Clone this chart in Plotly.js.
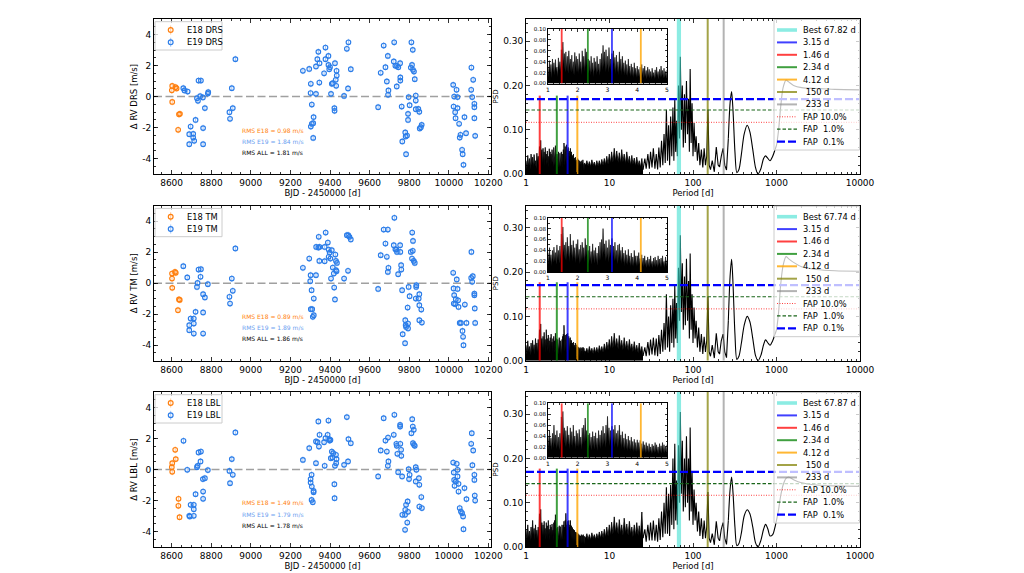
<!DOCTYPE html>
<html><head><meta charset="utf-8">
<script src="https://cdn.plot.ly/plotly-3.0.1.min.js"></script>
<style>html,body{margin:0;padding:0;background:#fff}#chart{width:1024px;height:573px}</style>
</head><body><div id="chart"></div>
<script>
// ---------------- RV time series ----------------
const drsE18T=[8603,8601,8620,8625,8603,8637,8642,8633];
const drsE18V=[0.68,0.40,0.60,0.52,-0.35,-1.15,-1.12,-2.15];
const drsE19T=[8659,8665,8681,8696,8689,8689,8709,8709,8714,8721,8728,8733,8736,8748,8744,8758,8759,8759,8768,8783,8785,8892,8895,8904,8909,8922,
9263,9295,9303,9302,9303,9308,9308,9317,9315,9315,9329,9329,9341,9336,9346,9347,9370,9377,9377,9392,9392,9396,9400,9405,9409,9414,9422,9423,9425,9429,9431,9433,9434,9471,9485,9491,9493,9505,
9643,9656,9671,9680,9687,9692,9695,9693,9724,9722,9730,9738,9737,9745,9754,9755,9755,9762,9765,9780,9782,9789,9784,9794,9794,9797,9802,9811,9808,9814,9818,9819,9824,9828,9833,9833,9833,9846,9851,9853,9863,9859,
10022,10027,10024,10032,10034,10039,10044,10044,10052,10055,10059,10067,10070,10074,10079,10087,10113,10114,10118,10123,10129,10129,10129,10133];
const drsE19V=[0.54,0.39,0.32,-1.94,-2.43,-3.08,-2.41,-2.65,-2.86,-1.51,-0.11,-0.28,1.03,1.03,0.02,-0.06,-2.04,-3.08,-0.75,0.19,0.28,-1.01,-1.44,0.54,-0.75,2.41,
1.66,1.78,0.82,0.22,-1.94,-1.76,-0.52,-1.33,-1.72,-2.67,0.17,1.94,2.88,2.41,0.9,2.15,1.5,3.16,2.41,2.62,2.04,1.76,1.89,0.17,0.82,0.86,-0.75,-0.92,2.15,1.08,0.69,1.66,1.35,0.04,3.08,0.52,3.5,1.76,
-0.69,1.53,3.29,1.89,0.97,2.62,0.39,0.11,3.5,2.26,1.98,1.98,0.65,1.89,2.15,1.23,1.03,-0.65,-2.9,-2.32,-2.58,-2.52,-3.72,-1.51,-1.12,-0.04,-0.56,3.5,1.87,2.04,3.01,1.72,1.61,1.12,0.06,-0.26,-0.82,-0.8,-0.99,-2.06,-1.83,-1.98,
0.75,0.0,-0.65,-1.01,-1.4,0.43,-0.04,-0.75,-1.76,-2.65,-2.47,-3.44,-3.72,-4.41,-1.33,-2.37,0.43,1.87,-0.04,1.08,-0.47,-0.69,-1.4,-2.54];

const tmE18T=[8602,8602,8617,8621,8603,8637,8641,8632];
const tmE18V=[0.30,0.62,0.73,0.67,-0.30,-1.05,-1.08,-1.74];
const tmE19T=[8659,8679,8689,8689,8696,8712,8712,8712,8721,8728,8731,8736,8748,8746,8759,8759,8759,8768,8783,8892,8895,8904,8909,8922,
9263,9295,9302,9300,9307,9303,9310,9313,9318,9318,9329,9330,9341,9343,9346,9347,9373,9373,9378,9389,9393,9393,9398,9402,9405,9409,9414,9419,9421,9425,9427,9430,9430,9433,9435,9471,9485,9491,9492,9498,9505,
9643,9656,9671,9680,9687,9692,9695,9692,9725,9722,9730,9738,9735,9744,9754,9755,9759,9760,9764,9767,9780,9782,9784,9779,9792,9794,9794,9797,9802,9815,9808,9818,9819,9814,9823,9828,9833,9836,9835,9851,9848,9851,9851,9861,9864,
10022,10024,10027,10025,10032,10035,10040,10044,10047,10049,10055,10061,10069,10072,10074,10081,10089,10113,10114,10121,10118,10129,10129,10131,10133];
const tmE19V=[1.10,0.37,-2.71,-3.03,-2.28,-2.28,-2.60,-3.25,-1.85,-0.24,0.02,0.88,0.90,0.41,-1.89,-3.25,-0.71,-0.92,-0.06,-0.88,-1.31,0.30,-0.49,2.24,
0.99,1.59,0.52,0.13,-0.45,-1.68,-1.68,-2.17,-2.06,-0.99,0.52,2.34,2.30,2.99,1.44,2.34,2.34,1.42,3.27,2.62,2.17,1.70,1.98,1.59,0.30,2.13,1.01,0.62,-0.28,-1.05,1.85,1.44,0.84,0.77,1.31,0.30,3.10,0.80,3.10,2.99,2.82,
-0.37,1.81,3.46,2.56,1.70,3.46,0.99,0.73,4.22,2.45,2.19,2.02,2.17,0.58,2.45,2.02,1.16,0.88,-0.45,-3.29,-2.39,-2.71,-2.82,-3.87,-1.57,-2.92,-2.60,-0.24,-0.84,3.27,2.02,2.09,2.73,1.59,1.44,1.31,-0.99,-0.13,-0.24,-0.71,-0.99,-1.42,-2.39,-1.70,-2.54,
0.67,-0.34,-0.77,-1.31,-1.35,-1.03,0.24,-0.37,-1.10,-1.53,-2.56,-2.56,-3.08,-3.46,-4.00,-1.38,-2.56,0.34,2.02,0.45,0.09,-0.67,-0.77,-1.63,-2.56];

const lblE18T=[8603,8601,8603,8618,8621,8635,8634,8640];
const lblE18V=[0.41,0.15,-0.15,1.27,0.67,-1.89,-2.34,-3.08];
const lblE19T=[8660,8679,8689,8692,8696,8712,8712,8712,8721,8728,8731,8736,8748,8746,8758,8759,8759,8768,8783,8892,8895,8904,8909,8922,
9263,9295,9302,9302,9307,9308,9307,9313,9317,9317,9329,9329,9337,9341,9344,9347,9370,9373,9377,9392,9388,9396,9398,9402,9404,9409,9412,9416,9422,9423,9425,9430,9431,9433,9471,9485,9491,9493,9505,
9643,9656,9671,9680,9687,9693,9695,9692,9725,9722,9735,9737,9740,9744,9754,9754,9755,9759,9760,9764,9765,9779,9779,9780,9784,9792,9794,9790,9797,9799,9802,9815,9811,9818,9819,9823,9824,9828,9833,9836,9833,9849,9851,9851,9861,9864,
10022,10025,10027,10029,10035,10040,10044,10044,10049,10049,10055,10061,10067,10072,10074,10079,10089,10113,10116,10119,10123,10129,10129,10131,10133];
const lblE19V=[1.85,-0.02,-2.99,-3.03,-2.28,-2.28,-2.56,-2.99,-1.59,0.15,0.24,1.10,1.16,0.52,-0.62,-1.42,-1.89,-0.56,-0.04,-0.09,-0.88,0.67,-0.34,2.39,
0.62,1.38,-0.62,-0.84,-0.34,-1.10,-1.96,-2.11,-1.46,-1.38,0.41,1.81,1.76,3.10,1.48,2.24,1.76,0.24,2.02,3.16,2.24,1.96,1.87,1.91,0.73,1.16,0.77,1.05,-0.95,-1.85,0.24,0.95,0.41,0.67,0.30,3.38,0.52,1.96,1.70,
-0.45,1.23,3.31,1.87,1.16,2.06,0.52,0.24,3.53,2.24,1.66,1.53,1.01,-0.17,2.88,2.77,1.66,1.27,0.88,-0.45,-2.92,-2.92,-3.89,-2.60,-2.28,-2.06,-2.73,-3.42,0.02,-0.62,-0.34,3.25,2.34,2.77,1.70,2.56,1.59,1.53,0.15,-0.02,-0.77,-0.56,-0.99,-2.39,-1.78,-2.49,
0.45,-0.19,-0.67,-1.05,-0.77,0.37,-0.02,-0.45,-1.42,-0.92,-2.49,-2.71,-2.82,-3.03,-3.85,-1.20,-1.91,1.66,2.34,0.28,1.23,-0.34,-0.67,-1.68,-2.00];

const methods=['DRS','TM','LBL'];
const rmsE18=[0.98,0.89,1.49];
const rmsE19=[1.84,1.89,1.79];
const rmsAll=[1.81,1.86,1.78];

// ---------------- Periodograms ----------------
const periodsDense=[1,1.025,1.05,1.075,1.1,1.125,1.15,1.175,1.2,1.225,1.25,1.275,1.3,1.325,1.35,1.375,
1.4,1.425,1.45,1.475,1.5,1.525,1.55,1.575,1.6,1.625,1.65,1.675,1.7,1.725,1.75,1.775,
1.8,1.825,1.85,1.875,1.9,1.925,1.95,1.975,2,2.025,2.05,2.075,2.1,2.125,2.15,2.175,
2.2,2.225,2.25,2.275,2.3,2.325,2.35,2.375,2.4,2.425,2.45,2.475,2.5,2.525,2.55,2.575,
2.6,2.625,2.65,2.675,2.7,2.725,2.75,2.775,2.8,2.825,2.85,2.875,2.9,2.925,2.95,2.975,
3,3.025,3.05,3.075,3.1,3.125,3.15,3.175,3.2,3.225,3.25,3.275,3.3,3.325,3.35,3.375,
3.4,3.425,3.45,3.475,3.5,3.525,3.55,3.575,3.6,3.625,3.65,3.675,3.7,3.725,3.75,3.775,
3.8,3.825,3.85,3.875,3.9,3.925,3.95,3.975,4,4.025,4.05,4.075,4.1,4.125,4.15,4.175,
4.2,4.225,4.25,4.275,4.3,4.325,4.35,4.375,4.4,4.425,4.45,4.475,4.5,4.525,4.55,4.575,
4.6,4.625,4.65,4.675,4.7,4.725,4.75,4.775,4.8,4.825,4.85,4.875,4.9,4.925,4.95,4.975,5];
const psdDenseDRS=[.03,.012,.042,.018,.035,.01,.045,.02,.038,.015,.044,.022,.03,.012,.047,.025,
.04,.02,.062,.03,.076,.035,.055,.02,.058,.025,.05,.018,.06,.03,.045,.02,
.052,.022,.04,.015,.057,.028,.05,.02,.045,.018,.055,.025,.04,.015,.06,.028,
.05,.02,.064,.03,.058,.022,.045,.018,.042,.015,.05,.02,.038,.012,.047,.022,
.04,.016,.05,.02,.036,.014,.045,.02,.055,.025,.07,.03,.058,.02,.062,.025,
.05,.02,.066,.028,.045,.018,.055,.02,.06,.025,.048,.018,.052,.02,.04,.015,
.058,.022,.045,.016,.05,.02,.038,.014,.042,.015,.035,.012,.045,.018,.032,.012,
.036,.014,.03,.01,.038,.015,.028,.01,.032,.012,.026,.01,.03,.012,.035,.014,
.028,.01,.032,.012,.024,.008,.03,.012,.026,.01,.022,.008,.028,.012,.02,.008,
.025,.01,.03,.012,.022,.008,.026,.01,.032,.012,.024,.009,.028,.01,.022,.008,.025];
const psdDenseTM=[.035,.014,.045,.02,.032,.012,.04,.018,.046,.02,.036,.014,.05,.022,.04,.016,
.048,.02,.07,.03,.083,.035,.05,.022,.055,.02,.064,.028,.048,.018,.07,.03,
.05,.02,.058,.025,.045,.016,.052,.022,.06,.025,.042,.015,.05,.02,.055,.024,
.045,.018,.062,.028,.05,.02,.04,.015,.048,.02,.038,.014,.052,.022,.04,.016,
.045,.018,.035,.012,.048,.02,.055,.022,.06,.026,.08,.035,.052,.02,.058,.024,
.045,.018,.06,.025,.05,.02,.062,.026,.048,.02,.055,.022,.04,.015,.05,.02,
.052,.02,.04,.015,.046,.018,.035,.012,.04,.015,.032,.012,.042,.016,.03,.01,
.035,.012,.028,.01,.04,.015,.03,.01,.03,.012,.036,.014,.025,.009,.032,.012,
.026,.01,.03,.012,.022,.008,.028,.01,.024,.009,.03,.012,.02,.008,.026,.01,
.028,.01,.022,.008,.03,.012,.024,.009,.026,.01,.03,.012,.02,.008,.028,.01,.022];
const psdDenseLBL=[.04,.015,.05,.02,.036,.014,.045,.018,.06,.025,.042,.016,.05,.02,.038,.014,
.045,.02,.075,.03,.085,.035,.055,.02,.05,.02,.058,.024,.042,.015,.055,.022,
.048,.018,.06,.025,.04,.015,.05,.02,.045,.018,.052,.022,.038,.014,.055,.024,
.06,.025,.073,.03,.05,.02,.042,.016,.045,.018,.038,.014,.048,.02,.04,.015,
.046,.018,.036,.013,.05,.02,.042,.016,.05,.02,.058,.024,.045,.018,.06,.026,
.076,.03,.055,.022,.05,.02,.058,.024,.052,.02,.06,.025,.045,.018,.05,.02,
.06,.024,.042,.016,.048,.018,.036,.013,.044,.016,.034,.012,.04,.015,.032,.012,
.038,.014,.03,.01,.034,.012,.028,.01,.033,.012,.028,.01,.032,.012,.026,.009,
.03,.011,.024,.008,.028,.01,.022,.008,.026,.01,.02,.007,.025,.009,.022,.008,
.028,.01,.024,.009,.02,.007,.026,.01,.022,.008,.028,.01,.024,.009,.02,.007,.024];

const periodsMid=[5.18,5.36,5.54,5.74,5.94,6.15,6.36,6.58,6.81,7.05,7.3,7.55,7.82,8.09,8.37,8.67,8.97,9.28,9.61,9.94,
10.3,10.6,11,11.4,11.8,12.2,12.7,13.1,13.6,14,14.5,15,15.6,16.1,16.7,17.3,17.9,18.5,19.1,19.8,20.5,21.2,22,22.7,23.5,24.4,25.2];
const psdMidDRS=[.02,.03,.018,.028,.017,.032,.019,.027,.016,.03,.018,.03,.018,.033,.02,.035,.021,.04,.022,.045,
.024,.05,.026,.058,.028,.052,.026,.048,.024,.055,.027,.045,.023,.05,.025,.04,.02,.042,.022,.036,.018,.038,.019,.03,.015,.035,.01];
const psdMidTM=[.02,.028,.017,.032,.019,.028,.016,.03,.018,.03,.018,.034,.02,.032,.019,.038,.022,.042,.024,.048,
.026,.055,.028,.062,.03,.05,.026,.057,.028,.046,.024,.052,.026,.044,.023,.048,.024,.038,.02,.043,.021,.035,.018,.04,.019,.032,.011];
const psdMidLBL=[.02,.03,.017,.028,.016,.032,.019,.028,.017,.03,.019,.034,.02,.036,.021,.04,.022,.045,.024,.05,
.026,.056,.028,.068,.032,.055,.028,.062,.03,.05,.026,.065,.031,.052,.026,.058,.028,.045,.023,.05,.025,.055,.026,.048,.024,.079,.02];

const periodsLong=[25.2,26.5,27.5,28.8,30,31,32.3,33.5,35,36.3,37.7,39,40.5,42,43.5,45,46.5,48,49.5,51,
52.5,54,55.7,57.5,59,60.5,62,63.5,65,67,69,70.5,72.5,74.5,76.5,79,81,83.5,86,88.5,
90.5,92.5,95,97.5,100,103,106,109,113,117,121,126,131,136,141,146,151,156,162,170,
180,190,200,208,218,229,240,252,265,278,290,302,318,335,355,380,410,446,480,520,
560,600,650,700,740,790,836,900,960,1000,1060,1120,1200,1300,1400,1600,2000,3000,5000,10000];
const psdLongDRS=[.01,.035,.012,.045,.012,.05,.015,.058,.012,.045,.01,.06,.015,.075,.02,.09,.025,.145,.03,.11,
.02,.13,.04,.15,.03,.17,.05,.12,.04,.2,.08,.265,.1,.2,.06,.18,.07,.21,.09,.17,
.05,.237,.07,.16,.04,.115,.05,.085,.03,.07,.02,.055,.015,.058,.02,.04,.145,.02,.01,.03,
.005,.061,.02,.016,.04,.058,.02,.009,.08,.16,.186,.14,.05,.003,.01,.045,.09,.11,.095,.055,
.015,.0,.012,.035,.041,.035,.03,.04,.055,.065,.1,.15,.195,.212,.208,.2,.195,.193,.191,.19];
const psdLongTM=[.011,.03,.01,.042,.012,.048,.014,.052,.012,.05,.01,.058,.015,.07,.02,.085,.025,.15,.03,.1,
.02,.125,.04,.14,.03,.171,.05,.13,.04,.21,.09,.283,.11,.22,.07,.19,.08,.23,.09,.18,
.05,.242,.07,.15,.04,.12,.05,.09,.03,.075,.02,.06,.015,.054,.02,.045,.144,.02,.01,.035,
.006,.062,.02,.015,.045,.06,.02,.007,.09,.19,.229,.17,.06,.003,.01,.04,.08,.1,.088,.05,
.012,.0,.012,.036,.047,.04,.035,.045,.06,.07,.11,.17,.215,.235,.23,.222,.212,.206,.203,.202];
const psdLongLBL=[.02,.04,.012,.05,.015,.055,.015,.06,.014,.05,.012,.065,.016,.08,.022,.1,.03,.135,.03,.12,
.025,.14,.05,.2,.04,.233,.06,.15,.05,.23,.1,.305,.12,.24,.08,.2,.09,.25,.1,.2,
.06,.27,.08,.17,.05,.13,.06,.1,.035,.08,.025,.065,.018,.06,.02,.045,.124,.02,.01,.03,
.005,.058,.02,.014,.04,.055,.02,.006,.06,.13,.158,.12,.045,.003,.008,.032,.07,.084,.075,.045,
.01,.0,.015,.04,.051,.04,.025,.028,.045,.06,.085,.115,.14,.155,.158,.152,.145,.14,.138,.137];

const bestPeriods=[67.82,67.74,67.87];
const linePeriods=[3.15,1.46,2.34,4.12,150,233];
const lineNames=['3.15 d','1.46 d','2.34 d','4.12 d','\u00a0150 d','\u00a0233 d'];
const fap10=[0.1167,0.117,0.1168];
const fap1=[0.1445,0.1444,0.1432];
const fap01=[0.169,0.1705,0.1696];
const fapNames=['FAP 10.0%','FAP\u00a0\u00a01.0%','FAP\u00a0\u00a00.1%'];

// ---------------- build ----------------
const W=1024,H=573;
const px=p=>p/W, py=p=>1-p/H;
const rowTop=[19,205.7,392], rowH=155;
const insetTop=[29,217.7,403.3], insetH=54.5;
const FONT='DejaVu Sans';
const ORANGE='#ff7f0e', BLUE='#2b7de9';
const ORANGE_EB='rgba(255,127,14,0.55)', BLUE_EB='rgba(43,125,233,0.55)';
const lineColors=['rgba(0,0,255,0.75)','rgba(255,0,0,0.75)','rgba(0,128,0,0.75)','rgba(255,165,0,0.8)','rgba(128,128,0,0.72)','rgba(128,128,128,0.6)'];
const lineFull=[false,false,false,false,true,true];
const BESTC='rgba(64,224,208,0.6)';
const fapStyles=[{color:'rgba(255,0,0,0.75)',width:1,dash:'1px,1.5px'},{color:'#1a661a',width:1.2,dash:'3.5px,2px'},{color:'#0000ff',width:2.3,dash:'8px,3px'}];

const e18T=[drsE18T,tmE18T,lblE18T], e18V=[drsE18V,tmE18V,lblE18V];
const e19T=[drsE19T,tmE19T,lblE19T], e19V=[drsE19V,tmE19V,lblE19V];
const psdDense=[psdDenseDRS,psdDenseTM,psdDenseLBL];
const psdMid=[psdMidDRS,psdMidTM,psdMidLBL];
const psdLong=[psdLongDRS,psdLongTM,psdLongLBL];

const xa=n=>'x'+(n===1?'':n), ya=n=>'y'+(n===1?'':n);
const xk=n=>'xaxis'+(n===1?'':n), yk=n=>'yaxis'+(n===1?'':n);
const common={showline:true,linecolor:'#000',linewidth:1,mirror:'allticks',ticks:'inside',ticklen:4,tickwidth:0.8,tickcolor:'#000',
  showgrid:false,zeroline:false,fixedrange:true,tickfont:{family:FONT,size:9,color:'#000'}};
const mk=o=>Object.assign({},JSON.parse(JSON.stringify(common)),o);

const layout={width:W,height:H,margin:{l:0,r:0,t:0,b:0},paper_bgcolor:'#fff',plot_bgcolor:'#fff',
  font:{family:FONT,size:9,color:'#000'},showlegend:false,shapes:[],annotations:[]};
const traces=[];

function legendBox(x0,x1,yTop,yBot){
  layout.shapes.push({type:'rect',xref:'paper',yref:'paper',x0:px(x0),x1:px(x1),y0:py(yBot),y1:py(yTop),layer:'above',
    fillcolor:'rgba(255,255,255,0.75)',line:{color:'#cccccc',width:1}});
}
function legendText(x,y,text){
  layout.annotations.push({xref:'paper',yref:'paper',x:px(x),y:py(y),xanchor:'left',yanchor:'middle',text:text,showarrow:false,
    font:{family:FONT,size:8.3,color:'#000'}});
}

for(let r=0;r<3;r++){
  const nL=3*r+1,nR=3*r+2,nI=3*r+3;
  const top=rowTop[r];
  const ydom=[py(top+rowH),py(top)];
  // axes
  layout[xk(nL)]=mk({domain:[px(154),px(491)],range:[8511,10213],anchor:ya(nL),dtick:200,tick0:0,tickformat:'d',
    minor:{dtick:50,ticks:'inside',ticklen:2,tickcolor:'#000'},
    title:{text:'BJD - 2450000 [d]',font:{family:FONT,size:8.5},standoff:3}});
  layout[yk(nL)]=mk({domain:ydom,range:[-5,5],anchor:xa(nL),tickmode:'array',tickvals:[-4,-2,0,2,4],ticktext:['-4','-2','0','2','4'],
    minor:{dtick:0.5,tick0:0,ticks:'inside',ticklen:2,tickcolor:'#000'},
    title:{text:'\u0394 RV '+methods[r]+' [m/s]',font:{family:FONT,size:8.5},standoff:3}});
  layout[xk(nR)]=mk({domain:[px(526),px(860)],type:'log',range:[0,4],anchor:ya(nR),dtick:1,tick0:0,tickformat:'d',
    minor:{dtick:'D1',ticks:'inside',ticklen:2,tickcolor:'#000'},
    title:{text:'Period [d]',font:{family:FONT,size:8.5},standoff:3}});
  layout[yk(nR)]=mk({domain:ydom,range:[0,0.35],anchor:xa(nR),dtick:0.1,tick0:0,tickformat:'.2f',
    minor:{dtick:0.02,tick0:0,ticks:'inside',ticklen:2,tickcolor:'#000'},
    title:{text:'PSD',font:{family:FONT,size:7},standoff:3}});
  layout[xk(nI)]=mk({domain:[px(548),px(667)],range:[1,5],anchor:ya(nI),dtick:1,tick0:0,ticklen:2.5,
    tickfont:{family:FONT,size:6,color:'#000'},minor:{dtick:0.2,ticks:'inside',ticklen:1.5,tickcolor:'#000'}});
  layout[yk(nI)]=mk({domain:[py(insetTop[r]+insetH),py(insetTop[r])],range:[0,0.1],anchor:xa(nI),dtick:0.02,tick0:0,tickformat:'.2f',ticklen:2.5,
    tickfont:{family:FONT,size:5.5,color:'#000'},minor:{dtick:0.01,ticks:'inside',ticklen:1.5,tickcolor:'#000'}});

  // zero line
  layout.shapes.push({type:'line',xref:xa(nL)+' domain',yref:ya(nL),x0:0,x1:1,y0:0,y1:0,layer:'below',
    line:{color:'#a0a0a0',width:1.5,dash:'8px,3.5px'}});

  // RV points
  traces.push({type:'scatter',mode:'markers',x:e18T[r],y:e18V[r],xaxis:xa(nL),yaxis:ya(nL),name:'E18 '+methods[r],
    marker:{symbol:'circle-open',size:4.6,color:ORANGE,line:{width:1.15}},
    error_y:{type:'constant',value:0.22,thickness:0.8,width:0,color:ORANGE_EB}});
  traces.push({type:'scatter',mode:'markers',x:e19T[r],y:e19V[r],xaxis:xa(nL),yaxis:ya(nL),name:'E19 '+methods[r],
    marker:{symbol:'circle-open',size:4.6,color:BLUE,line:{width:1.15}},
    error_y:{type:'constant',value:0.22,thickness:0.8,width:0,color:BLUE_EB}});

  // RV legend (compact key: marker + error bar + label)
  legendBox(155,222,top+2.7,top+31);
  [['E18 '+methods[r],ORANGE,ORANGE_EB],['E19 '+methods[r],BLUE,BLUE_EB]].forEach((it,k)=>{
    const yy=top+11+12.3*k, cx=170.7, rr=2.4;
    layout.shapes.push({type:'line',xref:'paper',yref:'paper',x0:px(cx),x1:px(cx),y0:py(yy+4.5),y1:py(yy-4.5),layer:'above',line:{color:it[2],width:0.8}});
    layout.shapes.push({type:'circle',xref:'paper',yref:'paper',x0:px(cx-rr),x1:px(cx+rr),y0:py(yy+rr),y1:py(yy-rr),layer:'above',
      fillcolor:'rgba(0,0,0,0)',line:{color:it[1],width:1.15}});
    legendText(185,yy,it[0]);
  });

  // RMS text
  const rmsTxt=[['RMS E18 = '+rmsE18[r].toFixed(2)+' m/s',ORANGE],['RMS E19 = '+rmsE19[r].toFixed(2)+' m/s','#6a9ef0'],['RMS ALL = '+rmsAll[r].toFixed(2)+' m/s','#000']];
  rmsTxt.forEach((t,k)=>layout.annotations.push({xref:'paper',yref:'paper',x:px(240),y:py(top+111+11*k),xanchor:'left',yanchor:'middle',
    text:t[0],showarrow:false,font:{family:FONT,size:6,color:t[1]}}));

  // periodogram
  const nx=periodsDense.concat(periodsMid), ny=psdDense[r].concat(psdMid[r]);
  traces.push({type:'scatter',mode:'lines',x:nx,y:ny,xaxis:xa(nR),yaxis:ya(nR),fill:'tozeroy',fillcolor:'#000',
    line:{color:'#000',width:0.8},hoverinfo:'skip'});
  const split=68;
  traces.push({type:'scatter',mode:'lines',x:periodsLong.slice(0,split+1),y:psdLong[r].slice(0,split+1),xaxis:xa(nR),yaxis:ya(nR),
    line:{color:'#000',width:1.1},hoverinfo:'skip'});
  traces.push({type:'scatter',mode:'lines',x:periodsLong.slice(split),y:psdLong[r].slice(split),xaxis:xa(nR),yaxis:ya(nR),
    line:{color:'#000',width:1.1,shape:'spline',smoothing:0.8},hoverinfo:'skip'});
  // inset periodogram
  traces.push({type:'scatter',mode:'lines',x:periodsDense,y:psdDense[r],xaxis:xa(nI),yaxis:ya(nI),fill:'tozeroy',fillcolor:'#000',
    line:{color:'#000',width:0.6},hoverinfo:'skip'});

  // vertical period lines
  traces.push({type:'scatter',mode:'lines',x:[bestPeriods[r],bestPeriods[r]],y:[0,0.35],xaxis:xa(nR),yaxis:ya(nR),
    line:{color:BESTC,width:4.2},hoverinfo:'skip'});
  linePeriods.forEach((p,k)=>{
    traces.push({type:'scatter',mode:'lines',x:[p,p],y:[0,lineFull[k]?0.35:0.177],xaxis:xa(nR),yaxis:ya(nR),
      line:{color:lineColors[k],width:2},hoverinfo:'skip'});
    if(!lineFull[k]) traces.push({type:'scatter',mode:'lines',x:[p,p],y:[0,0.1],xaxis:xa(nI),yaxis:ya(nI),
      line:{color:lineColors[k],width:1.8},hoverinfo:'skip'});
  });
  // FAP levels
  [fap10[r],fap1[r],fap01[r]].forEach((f,k)=>{
    traces.push({type:'scatter',mode:'lines',x:[1,10000],y:[f,f],xaxis:xa(nR),yaxis:ya(nR),
      line:fapStyles[k],hoverinfo:'skip'});
  });

  // periodogram legend (compact key lines + text)
  legendBox(774,859.5,top+0.5,top+131);
  const items=[{name:'Best '+bestPeriods[r].toFixed(2)+' d',line:{color:BESTC,width:3.6}}]
    .concat(lineNames.map((nm,k)=>({name:nm,line:{color:lineColors[k],width:2}})))
    .concat(fapNames.map((nm,k)=>({name:nm,line:fapStyles[k]})));
  items.forEach((it,k)=>{
    const yy=top+11+12.4*k;
    layout.shapes.push({type:'line',xref:'paper',yref:'paper',x0:px(777),x1:px(797),y0:py(yy),y1:py(yy),layer:'above',line:it.line});
    legendText(801,yy,it.name);
  });
}

Plotly.newPlot('chart',traces,layout,{displayModeBar:false,staticPlot:true});
</script></body></html>
